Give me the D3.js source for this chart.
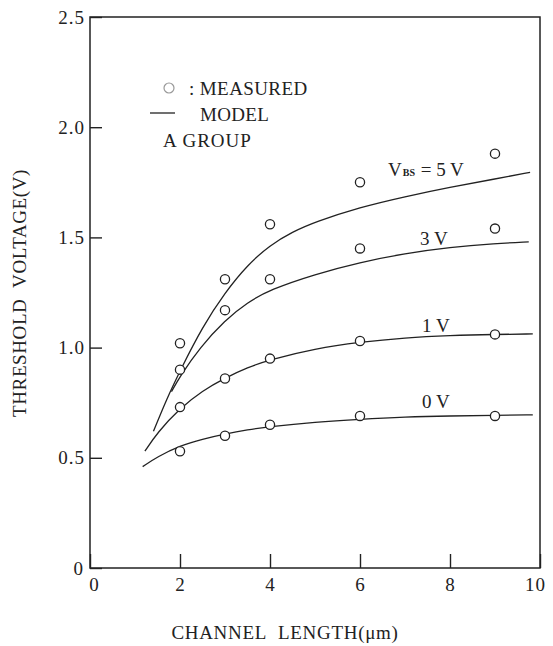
<!DOCTYPE html>
<html><head><meta charset="utf-8">
<script src="https://cdn.jsdelivr.net/npm/d3@7"></script>
<style>
body{margin:0;background:#fff}
svg{display:block}
text{font-family:"Liberation Serif","DejaVu Serif",serif;fill:#222}
</style>
</head><body>
<svg id="c" width="553" height="646"></svg>
<script>
// ---- data ----
const xTicks = [0, 2, 4, 6, 8, 10];
const yTicks = [0, 0.5, 1.0, 1.5, 2.0, 2.5];
const measuredL = [2, 3, 4, 6, 9];
const meas5V = [1.02, 1.31, 1.56, 1.75, 1.88];
const meas3V = [0.90, 1.17, 1.31, 1.45, 1.54];
const meas1V = [0.73, 0.86, 0.95, 1.03, 1.06];
const meas0V = [0.53, 0.60, 0.65, 0.69, 0.69];
const model5V = [[1.41,0.62],[1.7,0.765],[2.0,0.895],[2.5,1.095],[3.0,1.25],[3.5,1.375],[4.0,1.465],[4.5,1.525],[5.0,1.57],[6.0,1.637],[7.0,1.685],[8.0,1.728],[9.0,1.765],[9.78,1.795]];
const model3V = [[1.81,0.80],[2.0,0.87],[2.44,1.00],[3.0,1.125],[3.5,1.205],[4.0,1.263],[5.0,1.333],[6.0,1.387],[7.0,1.427],[8.0,1.455],[9.0,1.472],[9.75,1.48]];
const model1V = [[1.22,0.53],[1.5,0.615],[2.0,0.725],[2.5,0.805],[3.0,0.862],[3.5,0.91],[4.0,0.945],[5.0,0.995],[6.0,1.025],[7.0,1.045],[8.0,1.055],[9.0,1.06],[9.84,1.062]];
const model0V = [[1.17,0.46],[1.5,0.505],[2.0,0.555],[2.5,0.585],[3.0,0.608],[3.5,0.627],[4.0,0.642],[5.0,0.662],[6.0,0.675],[7.0,0.685],[8.0,0.69],[9.0,0.693],[9.84,0.695]];
const seriesNames = ["5 V", "3 V", "1 V", "0 V"];

// ---- layout ----
const svg = d3.select("#c");
const x = d3.scaleLinear().domain([0, 10]).range([90, 540]);
const y = d3.scaleLinear().domain([0, 2.5]).range([568, 17]);
const ink = "#222";

// axes
const yAxis = d3.axisLeft(y).tickValues(yTicks).tickSize(-12).tickPadding(5)
  .tickFormat(d => d === 0 ? "0" : d3.format(".1f")(d));
const gy = svg.append("g").attr("transform", `translate(${x(0)},0)`).call(yAxis);
const xAxis = d3.axisBottom(x).tickValues(xTicks).tickSize(-14).tickPadding(10)
  .tickFormat(d3.format("d"));
const gx = svg.append("g").attr("transform", `translate(0,${y(0)})`).call(xAxis);
[gx, gy].forEach(g => {
  g.select(".domain").remove();
  g.selectAll(".tick line").attr("stroke", ink).attr("stroke-width", 1.4);
  g.selectAll(".tick text").attr("fill", ink).style("font-size", "19px")
    .style("letter-spacing", "1px").style("font-family", '"Liberation Serif",serif');
});
gx.selectAll(".tick text").attr("dx", d => d === 0 ? 4 : d === 10 ? -5 : 0);
gy.selectAll(".tick text").attr("dx", d => d === 0 ? -1 : 0);

// frame
svg.append("rect").attr("x", x(0)).attr("y", y(2.5))
  .attr("width", x(10) - x(0)).attr("height", y(0) - y(2.5))
  .attr("fill", "none").attr("stroke", ink).attr("stroke-width", 1.5);

// model curves
const line = d3.line().x(d => x(d[0])).y(d => y(d[1])).curve(d3.curveBasis);
[model5V, model3V, model1V, model0V].forEach(m => {
  svg.append("path").attr("d", line(m)).attr("fill", "none")
    .attr("stroke", ink).attr("stroke-width", 1.3);
});

// measured points
[meas5V, meas3V, meas1V, meas0V].forEach(vals => {
  svg.append("g").selectAll("circle").data(vals).join("circle")
    .attr("cx", (d, i) => x(measuredL[i])).attr("cy", d => y(d))
    .attr("r", 4.6).attr("fill", "#fff").attr("stroke", ink).attr("stroke-width", 1.3);
});

// curve labels
const t5 = svg.append("text").attr("x", 388).attr("y", 176).style("font-size", "19px");
t5.append("tspan").text("V");
t5.append("tspan").text("BS").style("font-size", "10px").style("font-weight", "bold").attr("dx", 1);
t5.append("tspan").text(" = " + seriesNames[0]).attr("dx", 1);
svg.append("text").attr("x", 420).attr("y", 245).style("font-size", "19px").text(seriesNames[1]);
svg.append("text").attr("x", 422).attr("y", 332).style("font-size", "19px").text(seriesNames[2]);
svg.append("text").attr("x", 422).attr("y", 408).style("font-size", "19px").text(seriesNames[3]);

// legend
svg.append("circle").attr("cx", 169).attr("cy", 88).attr("r", 5)
  .attr("fill", "#fff").attr("stroke", "#999").attr("stroke-width", 1.2);
svg.append("text").attr("x", 189).attr("y", 95).style("font-size", "19px")
  .style("letter-spacing", "0.4px").text(": MEASURED");
svg.append("line").attr("x1", 150).attr("x2", 175).attr("y1", 113).attr("y2", 113)
  .attr("stroke", ink).attr("stroke-width", 1.3);
svg.append("text").attr("x", 200).attr("y", 121).style("font-size", "19px")
  .style("letter-spacing", "0.3px").text("MODEL");
svg.append("text").attr("x", 163).attr("y", 147).style("font-size", "19px")
  .style("letter-spacing", "1px").text("A GROUP");

// axis titles
svg.append("text").attr("x", 285).attr("y", 639).attr("text-anchor", "middle")
  .style("font-size", "19px").style("letter-spacing", "0.7px")
  .text("CHANNEL\u00a0\u00a0LENGTH(μm)");
svg.append("text").attr("transform", "translate(26,293) rotate(-90)")
  .attr("text-anchor", "middle").style("font-size", "19px").style("letter-spacing", "0.6px")
  .text("THRESHOLD\u00a0\u00a0VOLTAGE(V)");
</script>
</body></html>
